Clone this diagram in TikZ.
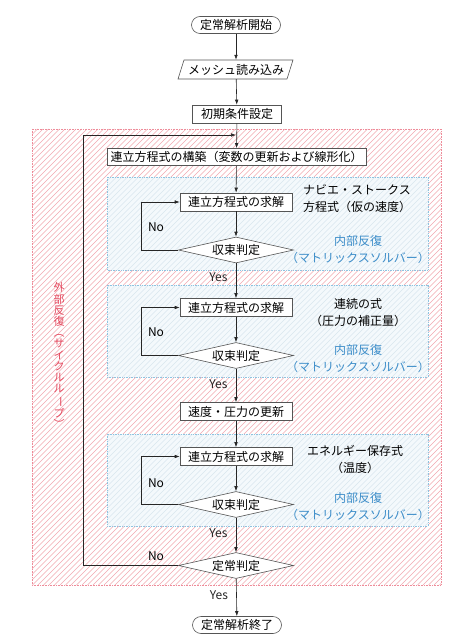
\documentclass[tikz,border=0pt]{standalone}
\usepackage{fontspec}
\setmainfont{Noto Sans CJK JP}
\usetikzlibrary{shapes.geometric,arrows.meta}
\definecolor{hred}{HTML}{F2A8B0}
\definecolor{bred}{HTML}{EE8C9A}
\definecolor{tred}{HTML}{E4485E}
\definecolor{hblue}{HTML}{D8E6EE}
\definecolor{fblue}{HTML}{F4F9FC}
\definecolor{bblue}{HTML}{8EC3E0}
\definecolor{tblue}{HTML}{3C8DC9}
\definecolor{edgec}{HTML}{555555}
\begin{document}
\begin{tikzpicture}[x=1pt,y=-1pt, font=\fontsize{12}{14}\selectfont,
  proc/.style={draw=edgec, fill=white, line width=0.6pt, minimum height=18pt, inner sep=2pt, minimum width=112pt},
  term/.style={draw=edgec, fill=white, line width=0.6pt, rounded corners=8.5pt, minimum height=17pt, minimum width=89pt, inner sep=2pt},
  dec/.style={draw=edgec, fill=white, line width=0.6pt, diamond, aspect=4.4, minimum width=115pt, minimum height=26pt, inner sep=0pt},
  arr/.style={-{Latex[length=5pt,width=3.6pt]}, line width=0.6pt, black!85},
  ln/.style={line width=0.6pt, black!85},
  hatchr/.style={hred, line width=0.6pt},
  hatchb/.style={hblue, line width=0.6pt},
  bluetxt/.style={text=tblue, align=center, font=\fontsize{12}{17}\selectfont},
  blktxt/.style={align=center, font=\fontsize{12}{17}\selectfont},
]
\useasboundingbox (0,0) rectangle (474,639);
\fill[white] (0,0) rectangle (474,639);

% outer hatched region
\begin{scope}
  \clip (32,129) rectangle (441,585);
  \foreach \i in {0,...,160} \draw[hatchr] ({-424+\i*5.5},585) -- ({32+\i*5.5},129);
\end{scope}
\draw[bred, densely dotted, line width=0.6pt] (32,129) rectangle (441,585);

% inner regions
\foreach \ya/\yb in {177/270, 285/377, 434/526}{
  \fill[fblue] (107,\ya) rectangle (428,\yb);
  \begin{scope}
    \clip (107,\ya) rectangle (428,\yb);
    \foreach \i in {0,...,80} \draw[hatchb] ({107-100+\i*5.5},\yb) -- ({107+\i*5.5},{\yb-100});
  \end{scope}
  \draw[bblue, densely dotted, line width=0.7pt] (107,\ya) rectangle (428,\yb);
}

% nodes
\node[term] (start) at (236,25) {定常解析開始};
\node[minimum width=104pt, minimum height=19pt, inner sep=0pt] (io) at (236,69.5) {};
\draw[edgec, line width=0.6pt, fill=white] ([shift={(-58,9.5)}]io.center) -- ([shift={(-52,-9.5)}]io.center) -- ([shift={(57,-9.5)}]io.center) -- ([shift={(51,9.5)}]io.center) -- cycle;
\node[inner sep=0pt] (iotext) at (236,69.5) {メッシュ読み込み};
\node[proc, minimum width=89pt] (init) at (237,114) {初期条件設定};
\node[proc, minimum width=259pt, minimum height=17pt] (build) at (236.5,157) {連立方程式の構築（変数の更新および線形化）};

\node[proc] (b1) at (236,202) {連立方程式の求解};
\node[dec] (d1) at (236,250) {収束判定};
\node[proc] (b2) at (236,307.5) {連立方程式の求解};
\node[dec] (d2) at (236,355.5) {収束判定};
\node[proc] (upd) at (236,411.5) {速度・圧力の更新};
\node[proc] (b3) at (236,456.5) {連立方程式の求解};
\node[dec] (d3) at (236,504.5) {収束判定};
\node[dec] (d4) at (236,565.5) {定常判定};
\node[term] (stop) at (237,625) {定常解析終了};

% side texts
\node[blktxt] (t1) at (357,198.5) {ナビエ・ストークス\\方程式（仮の速度）};
\node[bluetxt] (u1) at (358,250) {内部反復\\（マトリックスソルバー）};
\node[blktxt] (t2) at (358,313) {連続の式\\（圧力の補正量）};
\node[bluetxt] (u2) at (358,358.5) {内部反復\\（マトリックスソルバー）};
\node[blktxt] (t3) at (355,459.5) {エネルギー保存式\\（温度）};
\node[bluetxt] (u3) at (358,506.5) {内部反復\\（マトリックスソルバー）};

\node[text=tred, font=\fontsize{11}{11.2}\selectfont, align=center, inner sep=0pt] (vt) at (59,355.5)
  {外\\部\\反\\復\\︵\\サ\\イ\\ク\\ル\\ル\\\rotatebox[origin=c]{-90}{ー}\\プ\\︶};

% coordinates
\coordinate (merge) at (236,135);
\coordinate (n1) at (141,250);
\coordinate (n2) at (141,355.5);
\coordinate (n3) at (141,504.5);
\coordinate (n4) at (83,565.5);

% connectors
\draw[arr] (start) -- (io);
\draw[arr] (io) -- (init);
\draw[arr] (init) -- (build);
\draw[arr] (build) -- (b1);
\draw[arr] (b1) -- (d1);
\draw[arr] (d1) -- node[left=5pt, pos=0.4] {Yes} (b2);
\draw[arr] (b2) -- (d2);
\draw[arr] (d2) -- node[left=5pt, pos=0.45] {Yes} (upd);
\draw[arr] (upd) -- (b3);
\draw[arr] (b3) -- (d3);
\draw[arr] (d3) -- node[left=5pt, pos=0.45] {Yes} (d4);
\draw[arr] (d4) -- node[left=5pt, pos=0.45] {Yes} (stop);

\draw[arr] (d1.west) -- (n1) |- (b1.west);
\draw[arr] (d2.west) -- (n2) |- (b2.west);
\draw[arr] (d3.west) -- (n3) |- (b3.west);
\draw[arr] (d4.west) -- (n4) |- (merge);

\node (no1) at (156,227) {No};
\node (no2) at (156,332) {No};
\node (no3) at (156,483) {No};
\node (no4) at (156,556) {No};
\end{tikzpicture}
\end{document}
